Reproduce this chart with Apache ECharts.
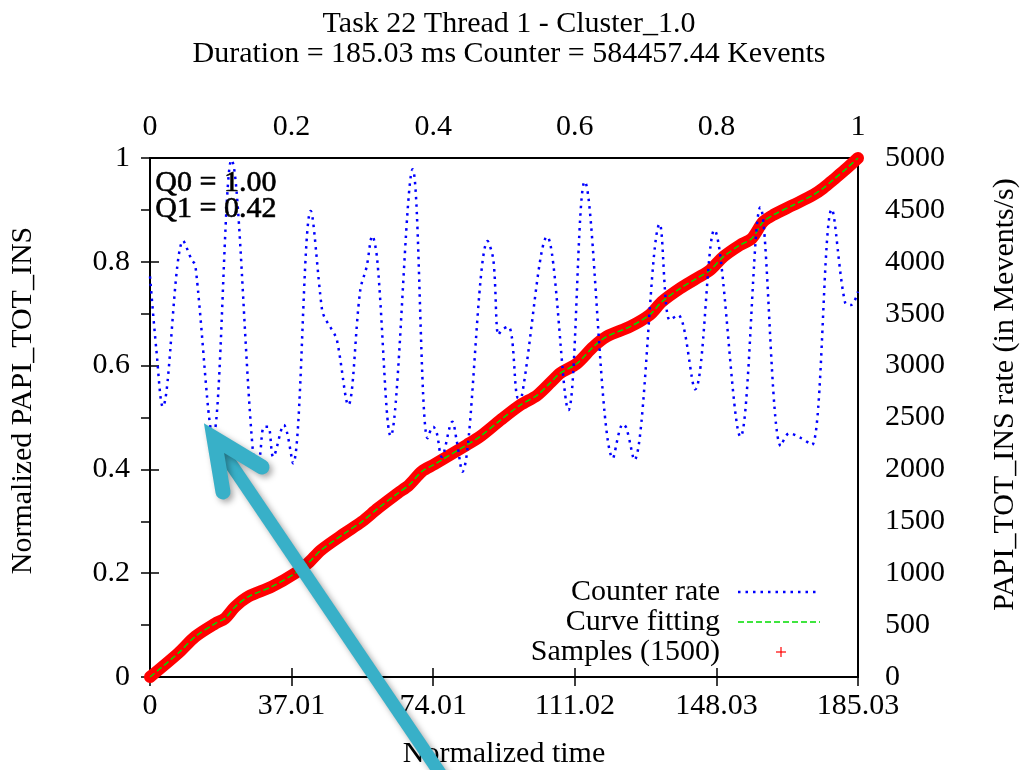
<html>
<head>
<meta charset="utf-8">
<script src="https://cdn.jsdelivr.net/npm/echarts@6/dist/echarts.min.js"></script>
<style>
  html, body { margin: 0; padding: 0; background: #fff; }
  #main { width: 1020px; height: 770px; }
</style>
</head>
<body>
<div id="main"></div>
<script>
// tick labels
var topTicks = ['0', '0.2', '0.4', '0.6', '0.8', '1'];
var bottomTicks = ['0', '37.01', '74.01', '111.02', '148.03', '185.03'];
var leftTicks = ['0', '0.2', '0.4', '0.6', '0.8', '1'];

// counter rate (Mevents/s) against normalized time
var rateTime = [0.000, 0.009, 0.018, 0.047, 0.059, 0.064, 0.089, 0.115, 0.146, 0.153,
  0.161, 0.167, 0.174, 0.189, 0.202, 0.227, 0.243, 0.247, 0.257, 0.264,
  0.280, 0.297, 0.306, 0.314, 0.321, 0.340, 0.371, 0.392, 0.400, 0.405,
  0.412, 0.427, 0.433, 0.441, 0.477, 0.485, 0.492, 0.497, 0.506, 0.511,
  0.520, 0.525, 0.561, 0.591, 0.614, 0.654, 0.668, 0.673, 0.684, 0.720,
  0.734, 0.746, 0.770, 0.797, 0.834, 0.862, 0.891, 0.903, 0.920, 0.935,
  0.963, 0.982, 0.990, 1.000];
var rateValues = [3860, 3150, 2604, 4203, 4017, 3969, 2315, 4981, 2122, 2091,
  2411, 2411, 2122, 2428, 2059, 4490, 3536, 3459, 3343, 3247,
  2620, 3728, 3953, 4249, 4017, 2322, 4891, 2300, 2411, 2350,
  2122, 2460, 2283, 1978, 4200, 4017, 3295, 3343, 3375, 3278,
  2685, 2700, 4242, 2572, 4772, 2107, 2437, 2396, 2091, 4364,
  3439, 3487, 2772, 4306, 2315, 4525, 2225, 2348, 2300, 2235,
  4506, 3600, 3584, 3712];

// normalized cumulative counter (samples and fit)
var sampleTime = [0.000, 0.040, 0.064, 0.092, 0.106, 0.120, 0.139, 0.172, 0.205, 0.223,
  0.242, 0.275, 0.299, 0.322, 0.350, 0.366, 0.384, 0.402, 0.447, 0.466,
  0.495, 0.523, 0.547, 0.567, 0.579, 0.603, 0.626, 0.645, 0.678, 0.706,
  0.723, 0.749, 0.772, 0.791, 0.810, 0.833, 0.850, 0.866, 0.880, 0.908,
  0.937, 0.951, 0.965, 0.984, 1.000];
var sampleValues = [0.000, 0.046, 0.078, 0.103, 0.113, 0.135, 0.155, 0.174, 0.200, 0.219,
  0.245, 0.277, 0.299, 0.325, 0.354, 0.370, 0.396, 0.410, 0.447, 0.463,
  0.495, 0.524, 0.543, 0.569, 0.585, 0.604, 0.636, 0.656, 0.675, 0.698,
  0.723, 0.749, 0.768, 0.784, 0.810, 0.832, 0.845, 0.877, 0.890, 0.909,
  0.929, 0.942, 0.958, 0.980, 1.000];

function zip(a, b) {
  var out = [];
  for (var i = 0; i < a.length; i++) out.push([a[i], b[i]]);
  return out;
}

var FONT = 'Liberation Serif';
var labelStyle = { fontFamily: FONT, fontSize: 30, color: '#000' };

var myChart = echarts.init(document.getElementById('main'), null, { renderer: 'canvas' });

var option = {
  backgroundColor: '#fff',
  animation: false,
  title: {
    text: 'Task 22 Thread 1 - Cluster_1.0\nDuration = 185.03 ms Counter = 584457.44 Kevents',
    left: 504,
    top: 4,
    textAlign: 'center',
    textStyle: { fontFamily: FONT, fontSize: 30, fontWeight: 'normal', color: '#000', lineHeight: 30 }
  },
  grid: {
    left: 150, right: 162, top: 158, bottom: 93,
    show: true, borderColor: '#000', borderWidth: 2,
    containLabel: false, outerBoundsMode: 'none'
  },
  xAxis: [{
    type: 'value', position: 'bottom', min: 0, max: 1, interval: 0.2,
    name: 'Normalized time', nameLocation: 'middle', nameGap: 62,
    nameTextStyle: labelStyle,
    axisLine: { show: false },
    axisTick: { inside: true, length: 9, lineStyle: { color: '#000', width: 1.5 } },
    splitLine: { show: false },
    axisLabel: Object.assign({ margin: 14, formatter: function (v) { return bottomTicks[Math.round(v / 0.2)]; } }, labelStyle)
  }, {
    type: 'value', position: 'top', min: 0, max: 1, interval: 0.2,
    axisLine: { show: false },
    axisTick: { inside: true, length: 9, lineStyle: { color: '#000', width: 1.5 } },
    splitLine: { show: false },
    axisLabel: Object.assign({ margin: 16, formatter: function (v) { return topTicks[Math.round(v / 0.2)]; } }, labelStyle)
  }],
  yAxis: [{
    type: 'value', position: 'left', min: 0, max: 1, interval: 0.2,
    name: 'Normalized PAPI_TOT_INS', nameLocation: 'middle', nameGap: 112,
    nameTextStyle: Object.assign({ padding: [0, 0, 0, 34] }, labelStyle),
    axisLine: { show: false },
    axisTick: { inside: true, length: 9, lineStyle: { color: '#000', width: 1.5 } },
    splitLine: { show: false },
    axisLabel: Object.assign({ margin: 20, formatter: function (v) { return leftTicks[Math.round(v / 0.2)]; } }, labelStyle)
  }, {
    type: 'value', position: 'right', min: 0, max: 5000, interval: 500,
    name: 'PAPI_TOT_INS rate (in Mevents/s)', nameLocation: 'middle', nameGap: 132, nameRotate: 90,
    nameTextStyle: Object.assign({ padding: [0, 0, 0, 46] }, labelStyle),
    axisLine: { show: false },
    axisTick: { inside: true, length: 9, lineStyle: { color: '#000', width: 1.5 } },
    splitLine: { show: false },
    axisLabel: Object.assign({ margin: 27, formatter: function (v) { return String(v); } }, labelStyle)
  }],
  series: [{
    name: 'Samples (1500)', type: 'line', xAxisIndex: 0, yAxisIndex: 0,
    data: zip(sampleTime, sampleValues),
    smooth: 0.3, showSymbol: false, z: 2,
    lineStyle: { color: '#ff0000', width: 12, cap: 'round', join: 'round' }
  }, {
    name: 'Curve fitting', type: 'line', xAxisIndex: 0, yAxisIndex: 0,
    data: zip(sampleTime, sampleValues),
    smooth: 0.3, showSymbol: false, z: 3,
    lineStyle: { color: '#00dd00', width: 1.5, type: [6, 3] }
  }, {
    name: 'Counter rate', type: 'line', xAxisIndex: 0, yAxisIndex: 1,
    data: zip(rateTime, rateValues),
    smooth: 0.35, showSymbol: false, z: 4,
    lineStyle: { color: '#0000ff', width: 2.5, type: [2.5, 5] }
  }],
  graphic: [
    // statistics box
    { type: 'text', left: 155, top: 168, z: 10,
      style: { text: 'Q0 = 1.00\nQ1 = 0.42', fontFamily: FONT, fontSize: 30, lineHeight: 26, fill: '#000', stroke: '#000', lineWidth: 0.6 } },
    // key
    { type: 'text', z: 10, style: { x: 720, y: 592, text: 'Counter rate', align: 'right', verticalAlign: 'middle', fontFamily: FONT, fontSize: 30, fill: '#000' } },
    { type: 'text', z: 10, style: { x: 720, y: 622, text: 'Curve fitting', align: 'right', verticalAlign: 'middle', fontFamily: FONT, fontSize: 30, fill: '#000' } },
    { type: 'text', z: 10, style: { x: 720, y: 652, text: 'Samples (1500)', align: 'right', verticalAlign: 'middle', fontFamily: FONT, fontSize: 30, fill: '#000' } },
    { type: 'line', z: 10, shape: { x1: 738, y1: 592, x2: 820, y2: 592 }, style: { stroke: '#0000ff', lineWidth: 2.5, lineDash: [2.5, 5] } },
    { type: 'line', z: 10, shape: { x1: 738, y1: 622, x2: 820, y2: 622 }, style: { stroke: '#00dd00', lineWidth: 1.5, lineDash: [6, 3] } },
    { type: 'line', z: 10, shape: { x1: 776, y1: 652, x2: 786, y2: 652 }, style: { stroke: '#ff0000', lineWidth: 1.2 } },
    { type: 'line', z: 10, shape: { x1: 781, y1: 647, x2: 781, y2: 657 }, style: { stroke: '#ff0000', lineWidth: 1.2 } },
    // callout arrow
    { type: 'line', z: 20, shape: { x1: 216, y1: 442, x2: 448, y2: 785 },
      style: { stroke: '#38b0c8', lineWidth: 13, shadowBlur: 6, shadowColor: 'rgba(0,0,0,0.35)', shadowOffsetX: 3, shadowOffsetY: 3 } },
    { type: 'polyline', z: 21, shape: { points: [[223, 492], [214, 438], [262, 467]] },
      style: { stroke: '#38b0c8', lineWidth: 15, lineCap: 'round', lineJoin: 'miter', fill: null, shadowBlur: 6, shadowColor: 'rgba(0,0,0,0.35)', shadowOffsetX: 3, shadowOffsetY: 3 } }
  ]
};

myChart.setOption(option);
</script>
</body>
</html>
